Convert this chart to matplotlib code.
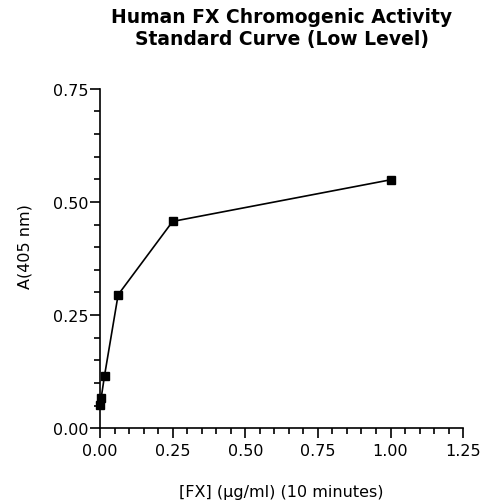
import matplotlib
matplotlib.use("Agg")
import matplotlib.pyplot as plt
from matplotlib.ticker import MultipleLocator

plt.rcParams.update({
    "font.family": ["DejaVu Sans"],
})

# FX concentration (ug/ml) and absorbance at 405 nm
fx_conc = [0.0, 0.0039, 0.0156, 0.0625, 0.25, 1.0]
absorbance = [0.052, 0.066, 0.116, 0.295, 0.457, 0.549]

fig = plt.figure(figsize=(4.83, 5.02), dpi=100)
ax = fig.add_axes([0.207, 0.145, 0.752, 0.676])

ax.plot(fx_conc, absorbance, color="black", linewidth=1.2,
        marker="s", markersize=5.5, clip_on=False)

ax.set_xlim(0, 1.25)
ax.set_ylim(0, 0.75)
ax.xaxis.set_major_locator(MultipleLocator(0.25))
ax.xaxis.set_minor_locator(MultipleLocator(0.05))
ax.yaxis.set_major_locator(MultipleLocator(0.25))
ax.yaxis.set_minor_locator(MultipleLocator(0.05))
ax.xaxis.set_major_formatter(lambda v, p: f"{v:.2f}")
ax.yaxis.set_major_formatter(lambda v, p: f"{v:.2f}")

for s in ("top", "right"):
    ax.spines[s].set_visible(False)
for s in ("left", "bottom"):
    ax.spines[s].set_linewidth(1.2)

ax.tick_params(which="major", direction="out", length=7, width=1.2,
               labelsize=11.5)
ax.tick_params(which="minor", direction="out", length=4, width=1.2)
ax.tick_params(axis="y", which="major", pad=1.5)
ax.tick_params(axis="x", which="major", pad=3.5)

ax.set_xlabel("[FX] (\u03bcg/ml) (10 minutes)", fontsize=11.5, labelpad=19)
ax.set_ylabel("A(405 nm)", fontsize=11.5)
ax.yaxis.set_label_coords(-0.185, 0.538)
ax.set_title("Human FX Chromogenic Activity\nStandard Curve (Low Level)",
             fontsize=13.5, fontweight="bold", pad=32, linespacing=1.2)

fig.savefig("out.png", dpi=100)
